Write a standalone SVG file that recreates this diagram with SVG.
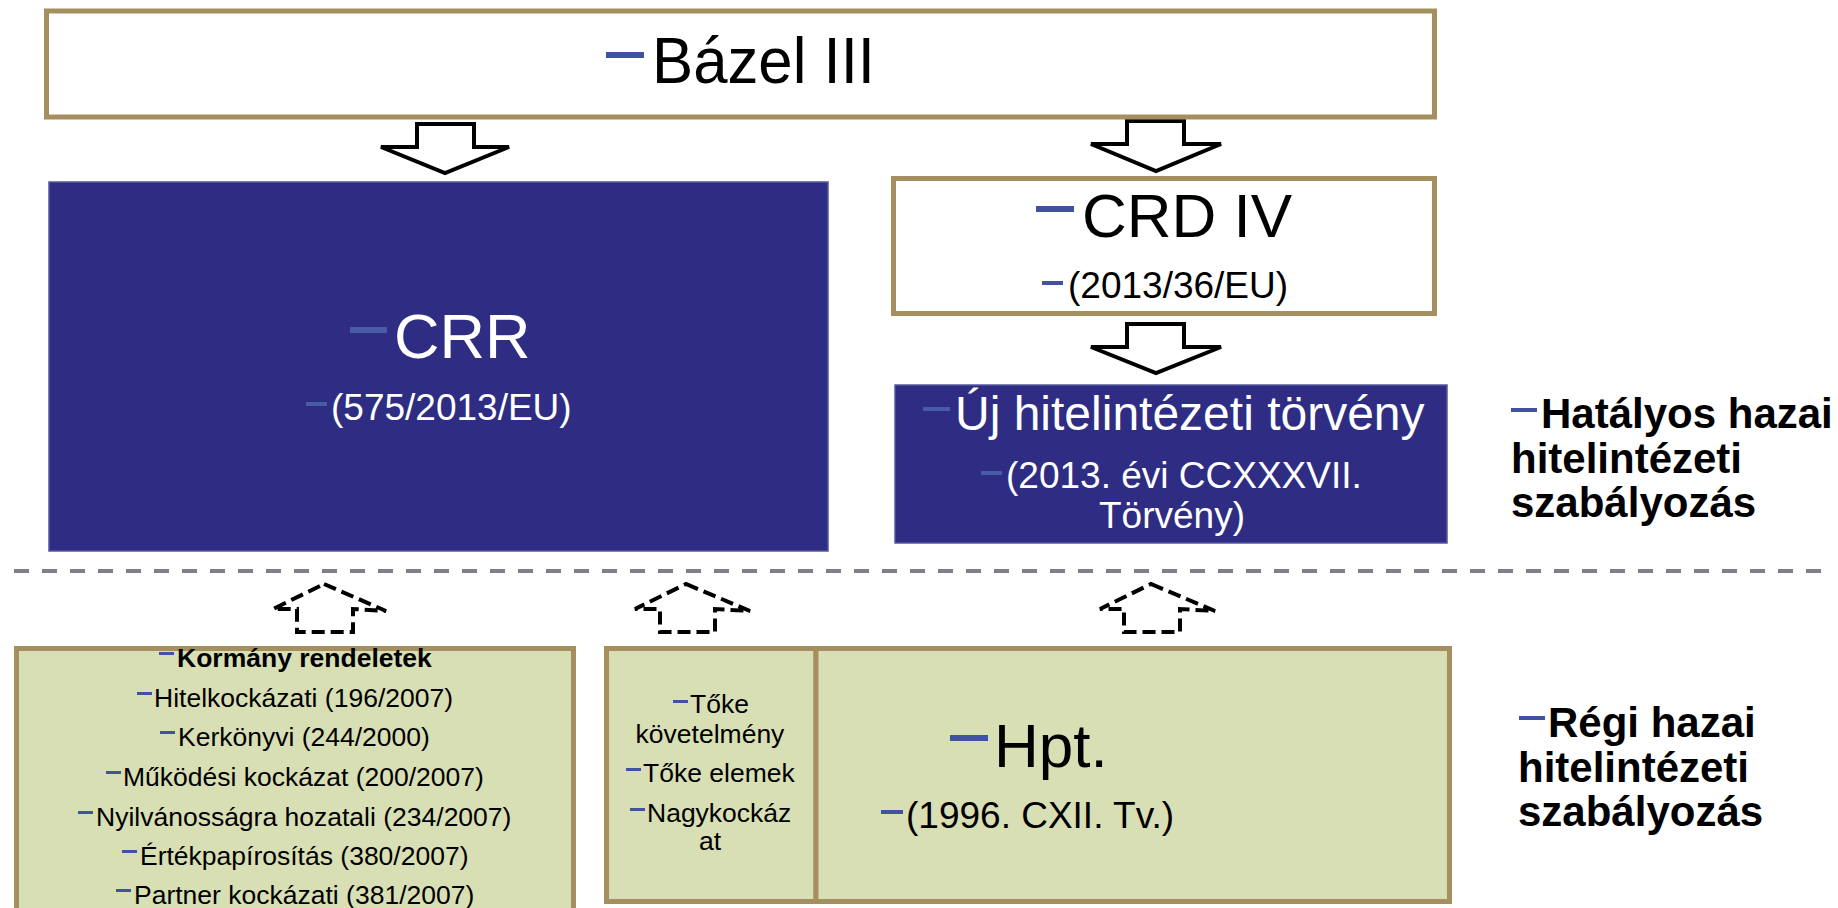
<svg xmlns="http://www.w3.org/2000/svg" width="1838" height="908" viewBox="0 0 1838 908">
<defs>
<style>
.t{font-family:"Liberation Sans",Arial,sans-serif;fill:#000}
.w{fill:#fff}
.b{font-weight:bold}
.tan{fill:#fff;stroke:#A58F5E;stroke-width:5}
.olive{fill:#D8DFB5;stroke:#A58F5E;stroke-width:5}
.navy{fill:#2E2D83;stroke:#5557A0;stroke-width:1.5}
.dash{fill:#4152A0}
.dashd{fill:#4A5BA5}
.sa{fill:#fff;stroke:#000;stroke-width:4;stroke-linejoin:miter}
.da{fill:none;stroke:#000;stroke-width:4;stroke-dasharray:13 6}
.sep{stroke:#7F7F8A;stroke-width:4;stroke-dasharray:15 13}
</style>
</defs>
<rect width="1838" height="908" fill="#fff"/>

<g id="connectors">
<polygon class="sa" points="417,124 474,124 474,147 509,147 445,173 381,147 417,147"/>
<polygon class="sa" points="1127,121 1184,121 1184,144 1221,144 1156,171 1091,144 1127,144"/>
<polygon class="sa" points="1127,324 1184,324 1184,347 1221,347 1156,373 1091,347 1127,347"/>
<polygon class="da" points="324,584 386,611 353,609 353,632 297,632 297,609 273,609"/>
<polygon class="da" points="686,584 750,611 715,609 715,632 660,632 660,609 635,609"/>
<polygon class="da" points="1151,584 1215,611 1180,609 1180,632 1124,632 1124,609 1100,609"/>
</g>

<line id="separator" class="sep" x1="14" y1="571" x2="1833" y2="571"/>

<g id="bazel">
<rect class="tan" x="46.5" y="11" width="1388" height="106"/>
<rect class="dash" x="606" y="52" width="38" height="6"/>
<text class="t" x="652" y="83" font-size="65" textLength="223" lengthAdjust="spacingAndGlyphs">Bázel III</text>
</g>

<g id="crr">
<rect class="navy" x="49" y="182" width="779" height="369"/>
<rect class="dashd" x="350" y="327" width="37" height="6"/>
<text class="t w" x="394" y="358" font-size="63">CRR</text>
<rect class="dashd" x="306" y="402" width="21" height="4"/>
<text class="t w" x="331" y="420" font-size="37">(575/2013/EU)</text>
</g>

<g id="crd4">
<rect class="tan" x="893.5" y="178.5" width="541" height="135"/>
<rect class="dash" x="1036" y="206" width="38" height="6"/>
<text class="t" x="1082" y="237" font-size="62">CRD IV</text>
<rect class="dash" x="1042" y="281" width="21" height="4"/>
<text class="t" x="1068" y="298" font-size="37">(2013/36/EU)</text>
</g>

<g id="uj-hpt">
<rect class="navy" x="895" y="385" width="552" height="158"/>
<rect class="dashd" x="923" y="407" width="27" height="4"/>
<text class="t w" x="955" y="430" font-size="48">Új hitelintézeti törvény</text>
<rect class="dashd" x="981" y="471" width="21" height="4"/>
<text class="t w" x="1006" y="488" font-size="37">(2013. évi CCXXXVII.</text>
<text class="t w" x="1172" y="528" font-size="37" text-anchor="middle">Törvény)</text>
</g>

<g id="label-hatalyos">
<rect class="dash" x="1511" y="408" width="26" height="4"/>
<text class="t b" x="1541" y="428" font-size="42">Hatályos hazai</text>
<text class="t b" x="1511" y="473" font-size="42">hitelintézeti</text>
<text class="t b" x="1511" y="517" font-size="42">szabályozás</text>
</g>

<g id="label-regi">
<rect class="dash" x="1519" y="716" width="26" height="4"/>
<text class="t b" x="1548" y="737" font-size="42">Régi hazai</text>
<text class="t b" x="1518" y="782" font-size="42">hitelintézeti</text>
<text class="t b" x="1518" y="826" font-size="42">szabályozás</text>
</g>

<g id="kormany-rendeletek">
<rect class="olive" x="16.5" y="648.5" width="557" height="280"/>
<g font-size="26.5">
<rect class="dash" x="159" y="652" width="15" height="3"/>
<text class="t b" x="177" y="667">Kormány rendeletek</text>
<rect class="dash" x="137" y="692" width="15" height="3"/>
<text class="t" x="154" y="707">Hitelkockázati (196/2007)</text>
<rect class="dash" x="160" y="731" width="15" height="3"/>
<text class="t" x="178" y="746">Kerkönyvi (244/2000)</text>
<rect class="dash" x="106" y="771" width="15" height="3"/>
<text class="t" x="123" y="786">Működési kockázat (200/2007)</text>
<rect class="dash" x="78" y="811" width="15" height="3"/>
<text class="t" x="96" y="826">Nyilvánosságra hozatali (234/2007)</text>
<rect class="dash" x="122" y="850" width="15" height="3"/>
<text class="t" x="140" y="865">Értékpapírosítás (380/2007)</text>
<rect class="dash" x="116" y="889" width="15" height="3"/>
<text class="t" x="134" y="904">Partner kockázati (381/2007)</text>
</g>
</g>

<g id="toke">
<rect class="olive" x="606.5" y="648.5" width="209.5" height="253"/>
<g font-size="26.5">
<rect class="dash" x="673" y="700" width="15" height="3"/>
<text class="t" x="690" y="713">Tőke</text>
<text class="t" x="710" y="743" text-anchor="middle">követelmény</text>
<rect class="dash" x="626" y="768" width="15" height="3"/>
<text class="t" x="643" y="782">Tőke elemek</text>
<rect class="dash" x="630" y="808" width="15" height="3"/>
<text class="t" x="647" y="822">Nagykockáz</text>
<text class="t" x="710" y="850" text-anchor="middle">at</text>
</g>
</g>

<g id="hpt">
<rect class="olive" x="816" y="648.5" width="633.5" height="253"/>
<rect class="dash" x="950" y="735" width="38" height="6"/>
<text class="t" x="994" y="767" font-size="62">Hpt.</text>
<rect class="dash" x="881" y="810" width="22" height="4"/>
<text class="t" x="906" y="828" font-size="37">(1996. CXII. Tv.)</text>
</g>
</svg>
